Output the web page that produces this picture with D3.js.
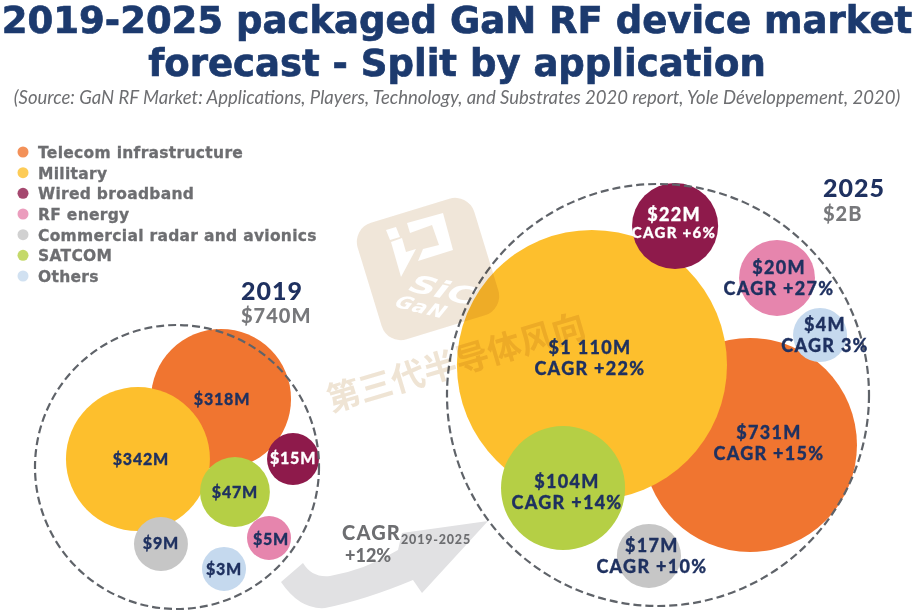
<!DOCTYPE html>
<html>
<head>
<meta charset="utf-8">
<script src="https://cdn.jsdelivr.net/npm/d3@7"></script>
<style>
  html, body { margin: 0; padding: 0; background: #fff; }
  svg { display: block; }
</style>
</head>
<body>
<svg id="chart" width="914" height="614"></svg>
<script>
const categories = ["Telecom infrastructure", "Military", "Wired broadband", "RF energy", "Commercial radar and avionics", "SATCOM", "Others"];
const values2019 = [318, 342, 15, 5, 9, 47, 3];
const values2025 = [731, 1110, 22, 20, 17, 104, 4];
const cagr = ["+15%", "+22%", "+6%", "+27%", "+10%", "+14%", "3%"];
const colors = ["#f07530", "#fdbf2d", "#8e1a4b", "#e685ad", "#c6c6c6", "#b5cf45", "#c5d9ee"];

// the bubbles are hand placed in the original, so this is layout in panel units (-1..1)
const layout2019 = [[0.31, -0.479, 0.493], [-0.275, -0.056, 0.507], [0.817, -0.056, 0.183], [0.648, 0.5, 0.155], [-0.113, 0.542, 0.19], [0.408, 0.176, 0.246], [0.331, 0.718, 0.155]];
const layout2025 = [[0.436, 0.237, 0.507], [-0.313, -0.142, 0.64], [0.081, -0.801, 0.204], [0.564, -0.555, 0.18], [-0.043, 0.763, 0.152], [-0.45, 0.441, 0.294], [0.768, -0.284, 0.128]];
const labelShift2019 = [[1, 0], [3, 0], [0, -1], [2, 1], [0, -1], [0, 0], [0, 0]];
const labelShift2025 = [[19, -2], [-2, -7], [-1, -1], [2, 0], [3, 0], [4, 4], [5, 0]];

const svg = d3.select("#chart");
const navy = "#1f3160";
const gray = "#6d6e71";
const fmt = d3.formatLocale({ decimal: ".", thousands: " ", grouping: [3], currency: ["$", "M"] }).format("$,");

// title
svg.selectAll(".title")
  .data(["2019-2025 packaged GaN RF device market", "forecast - Split by application"])
  .enter()
  .append("text")
  .attr("x", 457)
  .attr("y", (d, i) => 33 + i * 43)
  .attr("text-anchor", "middle")
  .attr("font-family", "DejaVu Sans")
  .attr("font-weight", "bold")
  .attr("font-size", 37)
  .attr("fill", "#1c3a6e")
  .attr("stroke", "#1c3a6e")
  .attr("stroke-width", 0.7)
  .text((d) => d);

svg.append("text")
  .attr("x", 457)
  .attr("y", 104)
  .attr("text-anchor", "middle")
  .attr("font-family", "Lato")
  .attr("font-style", "italic")
  .attr("font-size", 18.5)
  .attr("fill", "#6d6e71")
  .text("(Source: GaN RF Market: Applications, Players, Technology, and Substrates 2020 report, Yole Développement, 2020)");

// legend
const legendY = d3.scalePoint().domain(categories).range([152, 276]);
const legend = svg.selectAll(".legend")
  .data(categories)
  .enter()
  .append("g")
  .attr("transform", (d) => `translate(0,${legendY(d)})`);
legend.append("circle")
  .attr("cx", 23)
  .attr("r", 5.5)
  .attr("fill", (d, i) => colors[i])
  .attr("fill-opacity", 0.8);
legend.append("text")
  .attr("x", 38)
  .attr("y", 6)
  .attr("font-family", "DejaVu Sans")
  .attr("font-weight", "bold")
  .attr("font-size", 15.5)
  .attr("letter-spacing", 0.3)
  .attr("fill", gray)
  .attr("stroke", gray)
  .attr("stroke-width", 0.3)
  .text((d) => d);

// growth arrow
svg.append("path")
  .attr("d", "M281,582 L303,563 Q312,578 330,576 Q365,570 398,550 L402,533 L488,521 L422,593 L413,580 Q365,600 325,608 Q300,610 281,582 Z")
  .attr("fill", "#e1e1e3");
svg.append("text")
  .attr("x", 342)
  .attr("y", 540)
  .attr("font-family", "Lato")
  .attr("font-weight", 900)
  .attr("font-size", 20)
  .attr("letter-spacing", 1.2)
  .attr("fill", gray)
  .text("CAGR")
  .append("tspan")
  .attr("font-size", 12.5)
  .attr("dy", 4)
  .attr("letter-spacing", 0.8)
  .text("2019-2025");
svg.append("text")
  .attr("x", 345)
  .attr("y", 562)
  .attr("font-family", "Lato")
  .attr("font-weight", 900)
  .attr("font-size", 18)
  .attr("fill", gray)
  .text("+12%");

function drawPanel(cx, cy, R, values, layout, shift, withCagr, fontSize, spacing) {
  const x = d3.scaleLinear().domain([-1, 1]).range([cx - R, cx + R]);
  const y = d3.scaleLinear().domain([-1, 1]).range([cy - R, cy + R]);
  const r = d3.scaleLinear().domain([0, 1]).range([0, R]);

  const g = svg.append("g");
  g.selectAll("circle")
    .data(values)
    .enter()
    .append("circle")
    .attr("cx", (d, i) => x(layout[i][0]))
    .attr("cy", (d, i) => y(layout[i][1]))
    .attr("r", (d, i) => r(layout[i][2]))
    .attr("fill", (d, i) => colors[i]);

  g.append("circle")
    .attr("cx", cx)
    .attr("cy", cy)
    .attr("r", R)
    .attr("fill", "none")
    .attr("stroke", "#5f6369")
    .attr("stroke-width", 2.2)
    .attr("stroke-dasharray", "8 4");

  const labels = g.selectAll(".label")
    .data(values)
    .enter()
    .append("text")
    .attr("text-anchor", "middle")
    .attr("font-family", "Lato")
    .attr("font-weight", 900)
    .attr("font-size", fontSize)
    .attr("letter-spacing", spacing)
    .attr("fill", (d, i) => (i === 2 ? "#fff" : navy))
    .attr("stroke", (d, i) => (i === 2 ? "#fff" : navy))
    .attr("stroke-width", 0.3)
    .attr("transform", (d, i) => `translate(${x(layout[i][0]) + shift[i][0]},${y(layout[i][1]) + shift[i][1]})`);

  labels.append("tspan")
    .attr("x", 0)
    .attr("y", withCagr ? -4 : 6)
    .text((d) => fmt(d));

  if (withCagr) {
    labels.append("tspan")
      .attr("x", 0)
      .attr("y", (d, i) => (i === 2 ? 13 : 17))
      .attr("font-size", (d, i) => (i === 2 ? fontSize - 3 : fontSize))
      .text((d, i) => `CAGR ${cagr[i]}`);
  }
}

drawPanel(177, 467, 142, values2019, layout2019, labelShift2019, false, 16, 0.8);
drawPanel(658, 395, 211, values2025, layout2025, labelShift2025, true, 18, 1.3);

// year headings
const years = [["2019", "$740M", 241, 300, 323], ["2025", "$2B", 823, 197, 221]];
years.forEach((d) => {
  svg.append("text")
    .attr("x", d[2])
    .attr("y", d[3])
    .attr("font-family", "Lato")
    .attr("font-weight", 900)
    .attr("font-size", 25)
    .attr("letter-spacing", 1)
    .attr("fill", navy)
    .text(d[0]);
  svg.append("text")
    .attr("x", d[2])
    .attr("y", d[4])
    .attr("font-family", "Lato")
    .attr("font-weight", 900)
    .attr("font-size", 20)
    .attr("letter-spacing", 1)
    .attr("fill", "#77787b")
    .text(d[1]);
});

// watermark sits on top of everything
const mark = svg.append("g")
  .attr("opacity", 0.85)
  .style("mix-blend-mode", "multiply");
mark.append("rect")
  .attr("width", 122)
  .attr("height", 122)
  .attr("x", -61)
  .attr("y", -61)
  .attr("rx", 20)
  .attr("transform", "translate(428,269) rotate(-17)")
  .attr("fill", "#eee2d3");
mark.append("path")
  .attr("d", "M386,230 L396,227 L400,237 L390,240 Z M391,242 L402,238 L406,252 L416,249 L401,277 Z M407,223 L443,213 L453,250 L418,261 L423,249 L439,245 L432,225 L410,233 Z")
  .attr("fill", "#fff");
mark.append("text")
  .attr("transform", "translate(405,290) rotate(13) skewX(-25) scale(1.45,1)")
  .attr("font-family", "DejaVu Sans")
  .attr("font-weight", "bold")
  .attr("font-size", 25)
  .attr("fill", "#fff")
  .text("SiC");
mark.append("text")
  .attr("transform", "translate(392,306) rotate(14) skewX(-25) scale(1.15,1)")
  .attr("font-family", "DejaVu Sans")
  .attr("font-weight", "bold")
  .attr("font-size", 18)
  .attr("letter-spacing", 1)
  .attr("fill", "#fff")
  .text("GaN");
mark.append("text")
  .attr("transform", "translate(331,412) rotate(-16.5)")
  .attr("font-family", "Noto Sans CJK SC")
  .attr("font-weight", "bold")
  .attr("font-size", 33.5)
  .attr("fill", "#ecdfcd")
  .text("第三代半导体风向");
</script>
</body>
</html>
